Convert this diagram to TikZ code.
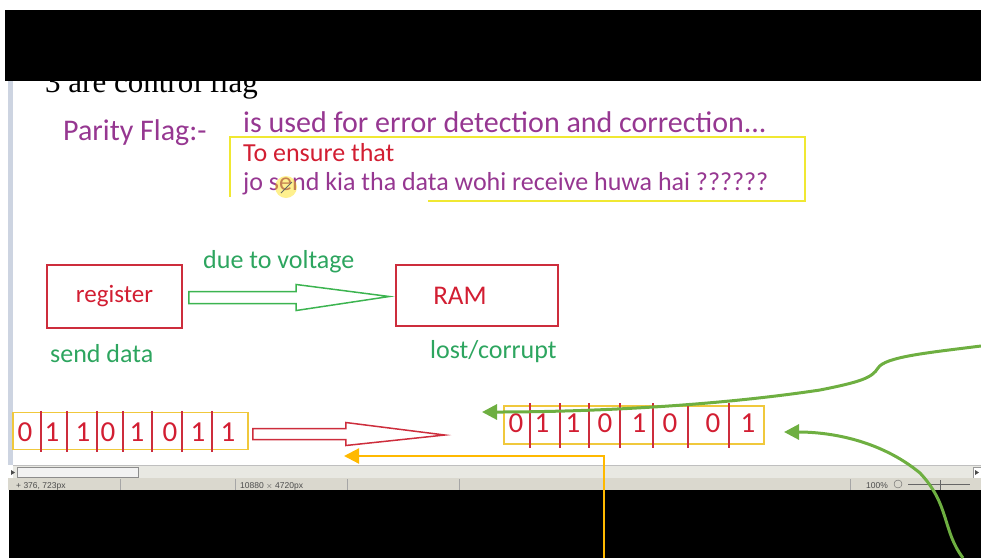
\documentclass[tikz,border=0pt]{standalone}
\usepackage{fontspec}
\setmainfont{Carlito}
\newfontfamily\headfont{Liberation Serif}
\newfontfamily\uifont{Liberation Sans}
\usetikzlibrary{positioning,arrows.meta,calc}

\definecolor{purp}{RGB}{150,55,145}
\definecolor{redtxt}{RGB}{210,30,50}
\definecolor{redbox}{RGB}{205,45,60}
\definecolor{grntxt}{RGB}{45,165,95}
\definecolor{grnarrow}{RGB}{60,180,80}
\definecolor{curvegrn}{RGB}{110,175,65}
\definecolor{ylwbox}{RGB}{240,232,50}
\definecolor{bitbox}{RGB}{240,200,60}
\definecolor{orng}{RGB}{255,185,0}
\definecolor{frame}{RGB}{205,212,225}
\definecolor{barbg}{RGB}{232,232,226}
\definecolor{statbg}{RGB}{218,216,206}

% hollow block arrow: [opts]{from}{tip}{shaft half}{head half}{head length}
\newcommand\fatarrow[6][]{%
  \draw[#1] let \p1=(#2), \p2=(#3) in
    (\x1,\y1+#4) -- (\x2-#6,\y1+#4) -- (\x2-#6,\y1+#5) -- (\x2,\y2)
    -- (\x2-#6,\y1-#5) -- (\x2-#6,\y1-#4) -- (\x1,\y1-#4) -- cycle;}

\tikzset{
  txt/.style={anchor=base west, inner sep=0pt},
  bigtxt/.style={txt, font=\fontsize{30}{34}\selectfont},
  midtxt/.style={txt, font=\fontsize{26}{30}\selectfont},
  redbox/.style={draw=redbox, line width=1.6pt, inner sep=0pt},
  bitrow/.style={draw=bitbox, line width=1.5pt, inner sep=0pt},
  bit/.style={text=redtxt, inner sep=0pt, font=\fontsize{29}{30}\selectfont},
  bitline/.style={redbox, line width=1.6pt},
  curve/.style={draw=curvegrn, line width=3pt, ->},
  status/.style={inner sep=0pt, anchor=base west, text=black!70,
    font=\uifont\fontsize{8.5}{9}\selectfont},
}

\begin{document}
\begin{tikzpicture}[x=1pt,y=-1pt,>={Triangle[length=15pt,width=15pt]}]
\useasboundingbox (0,0) rectangle (981,558);

% slide heading, half hidden by the black band
\node[txt, font=\headfont\fontsize{31}{33}\selectfont] (head) at (45,92) {3 are control flag};
\fill (5,10) rectangle (981,81);
\fill[frame] (8,81) rectangle (13,465);

% parity flag text
\node[bigtxt, text=purp] (pf) at (63,140) {Parity Flag:-};
\node[bigtxt, text=purp] (use) at (243,132) {is used for error detection and correction...};
\node[midtxt, text=redtxt] (ens) at (243,161) {To ensure that};
\node[midtxt, text=purp] (jo) at (243,190) {jo send kia tha data wohi receive huwa hai ??????};
\draw[ylwbox, line width=1.6pt] (428,201) -- (805,201) -- (805,137) -- (230,137) -- (230,197);
\fill[yellow!80!orange, opacity=.45] (286,187) circle (11);
\draw[black!60, line width=.8pt] (281,193) -- (292,182);

% register -> RAM
\node[redbox, minimum width=135pt, minimum height=63pt] (reg) at (114.5,296.5) {};
\node[text=redtxt, font=\fontsize{25}{28}\selectfont] (reglbl) at (reg.center) {register};
\node[redbox, minimum width=162pt, minimum height=61pt] (ram) at (477,295.5) {};
\node[text=redtxt, font=\fontsize{27}{30}\selectfont] (ramlbl) at ([xshift=-17pt]ram.center) {RAM};
\fatarrow[draw=grnarrow, line width=1.5pt]{$(reg.east)+(6,1)$}{$(ram.west)+(-6,1)$}{6pt}{13pt}{93pt}
\node[midtxt, text=grntxt] (due) at (203,268) {due to voltage};
\node[midtxt, text=grntxt] (send) at (50,362) {send data};
\node[midtxt, text=grntxt] (lost) at (430,358) {lost/corrupt};

% sent bits
\node[bitrow, minimum width=235pt, minimum height=37pt] (bits1) at (130.5,431) {};
\foreach \x in {41,67,97,123,152,182,212}
  \draw[bitline] ([yshift=1pt]bits1.north -| \x,0) -- ([yshift=-2pt]bits1.south -| \x,0);
\foreach \d/\x [count=\i] in {0/25,1/52,1/83,0/108,1/137,0/170,1/198,1/228}
  \node[bit] (a\i) at (\x,432) {\d};
\fatarrow[draw=redbox, line width=1.5pt]{$(bits1.east)+(4,3)$}{$(bits1.east)+(196,4)$}{5.5pt}{11.5pt}{99pt}

% received bits
\node[bitrow, minimum width=260pt, minimum height=38pt] (bits2) at (634,425) {};
\foreach \x in {530,560,589,620,653,688,729}
  \draw[bitline] ([yshift=2pt]bits2.north -| \x,0) -- ([yshift=-3pt]bits2.south -| \x,0);
\foreach \d/\x [count=\i] in {0/516,1/542,1/573,0/605,1/639,0/670,0/713,1/748}
  \node[bit] (r\i) at (\x,423) {\d};

% scroll bar and status bar
\fill[barbg] (13,465) rectangle (981,478);
\draw[black!25] (13,465) -- (981,465);
\draw[black!45, fill=black!5] (17,467) rectangle (138,477);
\fill[black!70] (11,470) -- (15,472.5) -- (11,475) -- cycle;
\draw[black!40, fill=white] (973,467) rectangle (981,478);
\fill[black!70] (975,470) -- (979,472.5) -- (975,475) -- cycle;
\fill[statbg] (8,478) rectangle (981,490);
\foreach \x in {120,235,347,459,850}
  \draw[black!35] (\x,479) -- (\x,490);
\node[status] (pos) at (16,488) {+ 376, 723px};
\node[status] (size) at (240,488) {10880 $\times$ 4720px};
\node[status] (zoom) at (866,488) {100\%};
\draw[black!60] (898,484) circle (4);
\draw[black!60] (908,484) -- (970,484);
\draw[black!60] (940,480) -- (940,490);
\fill (9,490) rectangle (981,558);

% pointers
\coordinate (orgstart) at (604,558);
\coordinate (orgtip) at (344,456);
\draw[orng, line width=2.2pt, ->] (orgstart) |- (orgtip);
\coordinate (c1start) at (981,346);
\coordinate (c1tip) at (482,412);
\draw[curve] (c1start) .. controls (925,353) and (885,357) .. (878,368)
  .. controls (872,378) and (860,382) .. (820,390)
  .. controls (700,408) and (570,412) .. (c1tip);
\coordinate (c2start) at (963,558);
\coordinate (c2tip) at (784,432);
\draw[curve] (c2start) .. controls (942,530) and (950,505) .. (920,473)
  .. controls (880,440) and (830,432) .. (c2tip);
\end{tikzpicture}
\end{document}
